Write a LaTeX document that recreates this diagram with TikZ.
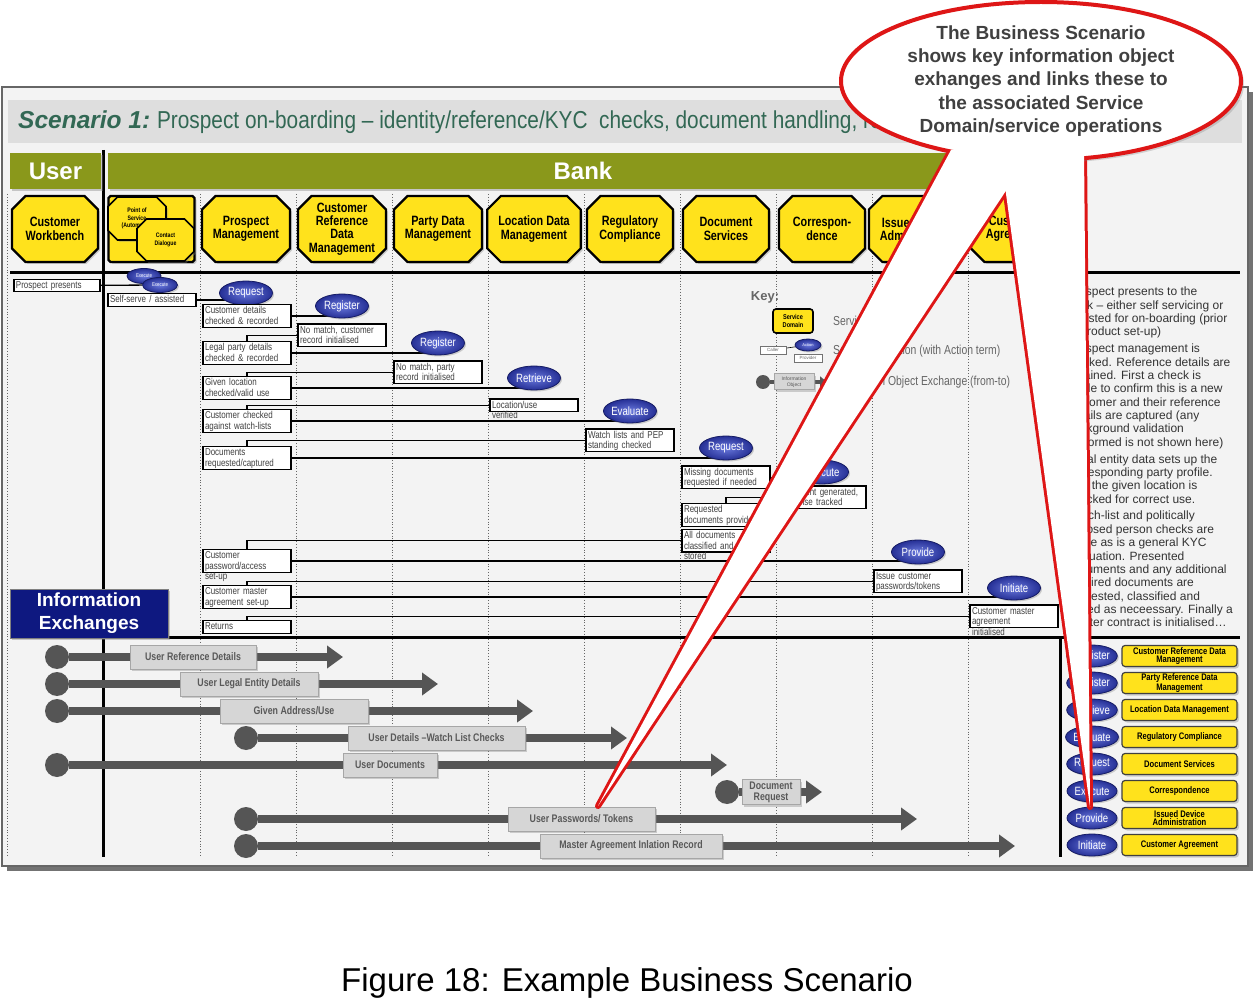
\documentclass[tikz,border=0pt]{standalone}
\usepackage{fontspec}
\setmainfont{Liberation Sans}
\newfontfamily\condsf[FakeStretch=0.8]{Liberation Sans}
\newfontfamily\titlesf[FakeStretch=0.85]{Liberation Sans}
\usetikzlibrary{positioning,shapes.geometric,shapes.misc,shadows,arrows.meta}

\definecolor{bankgreen}{RGB}{138,152,27}
\definecolor{sdyellow}{RGB}{255,226,28}
\definecolor{opblue}{RGB}{38,48,150}
\definecolor{oplight}{RGB}{105,120,220}
\definecolor{opdark}{RGB}{22,28,100}
\definecolor{navybox}{RGB}{14,24,128}
\definecolor{xgray}{RGB}{85,85,85}
\definecolor{xlabel}{RGB}{214,214,214}
\definecolor{calred}{RGB}{222,22,22}
\definecolor{titlegreen}{RGB}{50,104,84}
\definecolor{panelgray}{RGB}{243,243,243}
\definecolor{bandgray}{RGB}{222,222,222}

\pgfdeclarelayer{back}
\pgfdeclarelayer{wires}
\pgfsetlayers{back,wires,main}

\tikzset{
  sdbox/.style={chamfered rectangle, chamfered rectangle xsep=10pt, draw=black, line width=2.2pt,
    fill=sdyellow, minimum width=86pt, minimum height=66pt, inner sep=1pt, align=center,
    font=\condsf\bfseries\fontsize{13.5}{13.3}\selectfont,
    drop shadow={shadow xshift=2pt, shadow yshift=-2pt, opacity=0.35}},
  lanehead/.style={fill=bankgreen, text=white, minimum height=36pt, inner sep=0,
    font=\bfseries\fontsize{24}{24}\selectfont,
    drop shadow={shadow xshift=2pt, shadow yshift=-2pt, opacity=0.4}},
  opbox/.style={draw=black, line width=1.3pt, fill=white, text width=84pt, inner xsep=2pt, inner ysep=1.5pt,
    align=left, text=black!75, text height=7.5pt, text depth=12pt,
    font=\condsf\fontsize{10}{10.5}\selectfont},
  opell/.style={ellipse, minimum width=53pt, minimum height=24pt, inner sep=0, draw=opdark, line width=0.8pt,
    inner color=oplight, outer color=opblue, text=white, font=\condsf\fontsize{12}{12}\selectfont,
    drop shadow={shadow xshift=1.5pt, shadow yshift=-1.5pt, opacity=0.35}},
  flow/.style={draw=black, line width=1.3pt},
  xdot/.style={circle, fill=xgray, minimum size=24pt, inner sep=0},
  xline/.style={draw=xgray, line width=8pt, -{Triangle[length=16pt, width=22pt]}},
  xlab/.style={draw=black!35, fill=xlabel, line width=1pt, minimum height=24pt, inner xsep=4pt, inner ysep=1pt,
    align=center, text=black!65, font=\condsf\bfseries\fontsize{11}{11}\selectfont,
    drop shadow={shadow xshift=2pt, shadow yshift=-2pt, opacity=0.35}},
  sdlegend/.style={rounded corners=3pt, draw=black!75, line width=1.2pt, fill=sdyellow, minimum width=115pt,
    minimum height=21pt, inner sep=0.5pt, align=center, font=\condsf\bfseries\fontsize{9.5}{8.5}\selectfont,
    drop shadow={shadow xshift=2pt, shadow yshift=-2pt, opacity=0.35}},
  keytxt/.style={anchor=west, inner sep=0, text=black!60, font=\condsf\fontsize{13}{13}\selectfont},
  keytag/.style={draw=black!55, fill=white, line width=0.6pt, minimum height=8pt, inner sep=0,
    text=black!60, font=\fontsize{4.5}{4.5}\selectfont},
}

\begin{document}
\begin{tikzpicture}[x=1pt, y=-1pt]
  \useasboundingbox (0,0) rectangle (1254,1008);

  % frame, lanes and grid
  \begin{pgfonlayer}{back}
    \fill[white] (0,0) rectangle (1254,1008);
    \fill[black!55] (7,92) rectangle (1253,871);
    \filldraw[fill=panelgray, draw=black!60, line width=1.2pt] (2,87) rectangle (1248,866);
    \fill[bandgray] (8,100) rectangle (1242,143);
    \foreach \x in {7,200,296,392,488,584,680,776,872,968}
      \draw[dotted, black!60, line width=0.8pt] (\x,194) -- (\x,857);
    \draw[line width=3pt] (10,273) -- (1240,273);
    \draw[line width=3pt] (10,637) -- (1240,637);
    \draw[line width=3pt] (103.5,150) -- (103.5,857);
    \draw[line width=3pt] (1060.5,637) -- (1060.5,857);
  \end{pgfonlayer}

  \node[anchor=west, inner sep=0, text=titlegreen] (title) at (18,122)
    {\fontsize{24.5}{24.5}\selectfont\bfseries\itshape Scenario 1:\ \mdseries\upshape\titlesf Prospect on-boarding – identity/reference/KYC\ \ checks, document handling, re};

  \node[lanehead, minimum width=91pt] (userhd) at (55.5,171) {User};
  \node[lanehead, minimum width=950pt] (bankhd) at (583,171) {Bank};

  % service domains
  \foreach \cx/\nm/\txt in {55/cwb/{Customer\\Workbench}, 246/prm/{Prospect\\Management},
      342/crdm/{Customer\\Reference\\Data\\Management}, 438/pdm/{Party Data\\Management},
      534/ldm/{Location Data\\Management}, 630/rgc/{Regulatory\\Compliance},
      726/dsv/{Document\\Services}, 822/cor/{Correspon-\\dence},
      918/ida/{Issued Device\\Administration}, 1014/cag/{Customer\\Agreement}}
    \node[sdbox] (\nm) at (\cx,229) {\txt};
  \node[sdbox] (pos) at (151.5,229) {};
  \node[sdbox, minimum width=58pt, minimum height=43pt, chamfered rectangle xsep=6pt, line width=1.6pt,
    font=\condsf\bfseries\fontsize{6.5}{7.5}\selectfont] (posauto) at (137,218.5) {Point of\\Service\\(Automated)};
  \node[sdbox, minimum width=57pt, minimum height=42pt, chamfered rectangle xsep=6pt, line width=1.6pt,
    font=\condsf\bfseries\fontsize{6.5}{7.5}\selectfont] (contact) at (165.5,240) {Contact\\Dialogue};

  % scenario steps
  \node[opbox, text width=82pt, text depth=2pt] (presents) at (57,285.5) {Prospect presents};
  \node[opell, minimum width=34pt, minimum height=15pt, font=\condsf\fontsize{5.5}{5.5}\selectfont] (exe1) at (144,276) {Execute};
  \node[opell, minimum width=35pt, minimum height=15pt, font=\condsf\fontsize{5.5}{5.5}\selectfont] (exe2) at (160,285) {Execute};
  \node[opbox, text depth=2pt] (selfserve) at (152,300) {Self-serve / assisted};

  \node[opell] (req1) at (246,293) {Request};
  \node[opbox] (custdet) at (247,316) {Customer details\\checked \& recorded};
  \node[opell] (reg1) at (342,306) {Register};
  \node[opbox, below=5pt of reg1] (nomatch1) {No match, customer\\record initialised};

  \node[opbox] (legal) at (247,353) {Legal party details\\checked \& recorded};
  \node[opell] (reg2) at (438,343) {Register};
  \node[opbox, below=5pt of reg2] (nomatch2) {No match, party\\record initialised};

  \node[opbox] (givenloc) at (247,388) {Given location\\checked/valid use};
  \node[opell] (retr) at (534,378) {Retrieve};
  \node[opbox, below=8pt of retr, text depth=2pt] (locuse) {Location/use\\verified};

  \node[opbox] (watchchk) at (247,421) {Customer checked\\against watch-lists};
  \node[opell] (evalu) at (630,411) {Evaluate};
  \node[opbox, below=5pt of evalu] (peplist) {Watch lists and PEP\\standing checked};

  \node[opbox] (docsreq) at (247,458) {Documents\\requested/captured};
  \node[opell] (req2) at (726,448) {Request};
  \node[opbox, below=5pt of req2] (missing) {Missing documents\\requested if needed};
  \node[opell] (exec) at (822,472) {Execute};
  \node[opbox, below=1pt of exec] (docgen) {Document generated,\\response tracked};
  \node[opbox] (docsprov) at (726,515) {Requested\\documents provided};
  \node[opbox, below=2pt of docsprov] (docsstored) {All documents\\classified and\\stored};

  \node[opbox] (pwdsetup) at (247,561) {Customer\\password/access\\set-up};
  \node[opell] (prov) at (918,552) {Provide};
  \node[opbox, below=5pt of prov] (tokens) {Issue customer\\passwords/tokens};

  \node[opbox] (mastersetup) at (247,597) {Customer master\\agreement set-up};
  \node[opell] (init) at (1014,588) {Initiate};
  \node[opbox, below=4pt of init] (masterinit) {Customer master\\agreement\\initialised};
  \node[opbox, text depth=2pt] (returns) at (247,627) {Returns};

  \begin{pgfonlayer}{wires}
    \draw[flow] (presents) -- (exe2);
    \draw[flow] (selfserve) -- (selfserve -| req1);
    \draw[flow] (custdet) -- (custdet -| reg1);
    \draw[flow] (nomatch1) -| (legal);
    \draw[flow] (legal) -- (legal -| reg2);
    \draw[flow] (nomatch2) -| (givenloc);
    \draw[flow] (givenloc) -- (givenloc -| retr);
    \draw[flow] (locuse) -| (watchchk);
    \draw[flow] (watchchk) -- (watchchk -| evalu);
    \draw[flow] (peplist) -| (docsreq);
    \draw[flow] (docsreq) -- (docsreq -| req2);
    \draw[flow] (missing) -- (missing -| exec);
    \draw[flow] (docgen) -| (docsprov);
    \draw[flow] (docsstored) -| (pwdsetup);
    \draw[flow] (pwdsetup) -- (pwdsetup -| prov);
    \draw[flow] (tokens) -| (mastersetup);
    \draw[flow] (mastersetup) -- (mastersetup -| init);
    \draw[flow] (masterinit) -| (returns);
  \end{pgfonlayer}

  % key
  \node[inner sep=0, text=black!60, font=\bfseries\fontsize{13}{13}\selectfont] (keyhd) at (765,297) {Key:};
  \node[rounded corners=3pt, draw=black, line width=1.6pt, fill=sdyellow, minimum width=40pt, minimum height=24pt,
    inner sep=0, align=center, font=\condsf\bfseries\fontsize{7}{7.5}\selectfont] (keysd) at (793,321) {Service\\Domain};
  \node[keytxt] (keysdtxt) at (833,321) {Service Domain};
  \node[keytag, minimum width=26pt] (keycall) at (773,350) {Caller};
  \node[opell, minimum width=26pt, minimum height=12pt, font=\fontsize{4}{4}\selectfont] (keyop) at (808,345) {Action};
  \node[keytag, minimum width=28pt] (keyprov) at (808,358) {Provider};
  \node[keytxt] (keyoptxt) at (833,351) {Service Operation (with Action term)};
  \node[xdot, minimum size=14pt] (keydot) at (763,382) {};
  \coordinate (keyend) at (827,382);
  \node[xlab, minimum width=40pt, minimum height=16pt, inner sep=0, font=\fontsize{5}{5.5}\selectfont] (keyobj) at (794,382) {Information\\Object};
  \node[keytxt] (keyobjtxt) at (833,382) {Information Object Exchange (from-to)};
  \begin{pgfonlayer}{wires}
    \draw[flow, line width=0.6pt] (keycall) -- (keyop);
    \draw[xline, line width=4pt, -{Triangle[length=7pt, width=11pt]}] (keydot) -- (keyend);
  \end{pgfonlayer}

  % notes
  \node[anchor=north west, inner sep=0, align=left, text=black!80, font=\fontsize{12}{13.35}\selectfont] (notes) at (1067,287)
    {Prospect presents to the\\bank – either self servicing or\\assisted for on-boarding (prior\\to product set-up)\\[3.5pt]
     Prospect management is\\invoked. Reference details are\\obtained. First a check is\\made to confirm this is a new\\customer and their reference\\details are captured (any\\background validation\\performed is not shown here)\\[3.5pt]
     Legal entity data sets up the\\corresponding party profile.\\And the given location is\\checked for correct use.\\[3.5pt]
     Watch-list and politically\\exposed person checks are\\made as is a general KYC\\evaluation. Presented\\documents and any additional\\required documents are\\requested, classified and\\stored as neceessary. Finally a\\master contract is initialised…};

  \node[fill=navybox, draw=black!50, line width=1pt, text=white, align=center, minimum width=158pt, minimum height=49pt,
    inner sep=0, font=\bfseries\fontsize{19}{23}\selectfont,
    drop shadow={shadow xshift=2pt, shadow yshift=-2pt, opacity=0.4}] (infox) at (89,613.5) {Information\\Exchanges};

  % information exchanges
  \foreach \i/\sx/\ex/\lx/\w/\y/\txt in {1/57/343/193/126/657/{User Reference Details}, 2/57/438/249/138/684/{User Legal Entity Details},
      3/57/533/294/148/711/{Given Address/Use}, 4/246/627/436.5/177/738/{User Details –Watch List Checks},
      5/57/727/390/94/765/{User Documents}, 7/246/917/581.5/147/819/{User Passwords/ Tokens},
      8/246/1015/631/182/846/{Master Agreement Inlation Record}}
  {
    \node[xdot] (xs\i) at (\sx,\y) {};
    \coordinate (xe\i) at (\ex,\y);
    \begin{pgfonlayer}{wires}
      \draw[xline] (xs\i) -- (xe\i);
    \end{pgfonlayer}
    \node[xlab, minimum width=\w pt] (xl\i) at (\lx,\y) {\txt};
  }
  \node[xdot] (xs6) at (727,792) {};
  \coordinate (xe6) at (822,792);
  \begin{pgfonlayer}{wires}
    \draw[xline] (xs6) -- (xe6);
  \end{pgfonlayer}
  \node[xlab, inner xsep=3pt, minimum width=58pt, minimum height=25pt] (xl6) at (771,792) {Document\\Request};

  % operations legend
  \foreach \i/\op/\sd in {1/Register/{Customer Reference Data\\Management}, 2/Register/{Party Reference Data\\Management},
      3/Retrieve/{Location Data Management}, 4/Evaluate/{Regulatory Compliance}, 5/Request/{Document Services},
      6/Execute/{Correspondence}, 7/Provide/{Issued Device\\Administration}, 8/Initiate/{Customer Agreement}}
  {
    \node[opell, minimum width=50pt, minimum height=22pt] (lop\i) at (1092,629+27*\i) {\op};
    \node[sdlegend] (lsd\i) at (1179.5,629+27*\i) {\sd};
  }

  % callout
  \coordinate (tipA) at (598,806);
  \coordinate (tipB) at (1090,807);
  \coordinate (tailA1) at (951,150);
  \coordinate (tailA2) at (1033,150);
  \coordinate (tailB1) at (1000,150);
  \coordinate (tailB2) at (1084,150);
  \draw[calred, line width=6pt, line join=round] (tailA1) -- (tipA) -- (tailA2) -- cycle;
  \draw[calred, line width=6pt, line join=round] (tailB1) -- (tipB) -- (tailB2) -- cycle;
  \node[ellipse, draw=calred, line width=4pt, fill=white, minimum width=400pt, minimum height=158pt,
    drop shadow={shadow xshift=3pt, shadow yshift=-3pt, opacity=0.3}] (callout) at (1041,81) {};
  \fill[white] (tailA1) -- (tipA) -- (tailA2) -- cycle;
  \fill[white] (tailB1) -- (tipB) -- (tailB2) -- cycle;
  \node[align=center, inner sep=0, text=black!75, font=\bfseries\fontsize{19}{23.3}\selectfont] (callouttxt) at (callout.center)
    {The Business Scenario\\shows key information object\\exhanges and links these to\\the associated Service\\Domain/service operations};

  \node[inner sep=0, font=\fontsize{33}{33}\selectfont] (caption) at (627,983) {Figure 18: Example Business Scenario};
\end{tikzpicture}
\end{document}
